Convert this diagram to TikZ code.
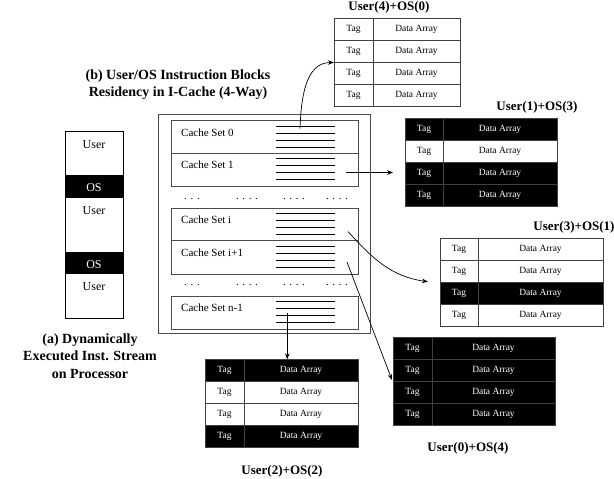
\documentclass[tikz,border=0pt]{standalone}
\usepackage{fontspec}
\setmainfont{Liberation Serif}
\usetikzlibrary{arrows.meta}
\newcommand\mktab[7]{%
  \foreach \f [count=\i] in {#7} {%
    \node[cell\f, anchor=north west, minimum width={#3-#2}, minimum height={#6}] (#1-\i-t) at (#2,{#5+(\i-1)*#6}) {Tag};
    \node[cell\f, anchor=north west, minimum width={#4-#3}, minimum height={#6}] (#1-\i-d) at (#3,{#5+(\i-1)*#6}) {Data Array};
  }}
\newcommand\mkset[4]{%
  \node[setbox, anchor=north west, minimum width=187, minimum height=#3] (#1) at (171,#2) {};
  \node[settext, anchor=base west] (#1-l) at (181,{#2+15.3}) {#4};
  \foreach \k in {0,...,3} {\draw[wline] (276,{#2+5.3+7*\k}) -- (335,{#2+5.3+7*\k});}
}
\begin{document}
\begin{tikzpicture}[x=1pt,y=-1pt,
  cellw/.style={draw=black!75, line width=0.8pt, fill=white, text=black, inner sep=0pt, outer sep=0pt, font=\fontsize{9.5}{11}\selectfont},
  cellb/.style={draw=black!75, line width=0.8pt, fill=black, text=white, inner sep=0pt, outer sep=0pt, font=\fontsize{9.5}{11}\selectfont},
  setbox/.style={draw=black!70, line width=0.9pt, inner sep=0pt, outer sep=0pt},
  settext/.style={inner sep=0pt, font=\fontsize{11}{13}\selectfont},
  wline/.style={line width=0.8pt, black},
  colbox/.style={draw=black, line width=0.9pt, inner sep=0pt, outer sep=0pt},
  osbox/.style={fill=black, text=white, inner sep=0pt, outer sep=0pt, font=\fontsize{12}{14}\selectfont},
  coltext/.style={inner sep=0pt, font=\fontsize{12}{14}\selectfont},
  ttl/.style={inner sep=0pt, font=\fontsize{13}{15}\selectfont\bfseries},
  lbl/.style={inner sep=0pt, align=center, font=\fontsize{14}{17.5}\selectfont\bfseries},
  dotsty/.style={inner sep=0pt, font=\fontsize{11}{13}\selectfont},
  arr/.style={-{Stealth[length=6pt,width=4.5pt]}, line width=0.7pt}
]
\useasboundingbox (0,0) rectangle (614,479);

% left column
\node[colbox, anchor=north west, minimum width=58, minimum height=187] (col) at (65,131) {};
\node[osbox, anchor=north west, minimum width=58, minimum height=22.5] (os1) at (65,175) {};
\node[osbox, anchor=north west, minimum width=58, minimum height=22.5] (os2) at (65,251.5) {};
\node[coltext, text=white, anchor=base] (os1t) at (94,191.3) {OS};
\node[coltext, text=white, anchor=base] (os2t) at (94,268) {OS};
\node[coltext, anchor=base] (u1) at (94,148.3) {User};
\node[coltext, anchor=base] (u2) at (94,214) {User};
\node[coltext, anchor=base] (u3) at (94,290) {User};

\node[lbl] (la) at (90,356) {(a) Dynamically\\Executed Inst. Stream\\on Processor};
\node[lbl] (lb) at (178,84.5) {(b) User/OS Instruction Blocks\\Residency in I-Cache (4-Way)};

% cache
\node[setbox, anchor=north west, minimum width=212, minimum height=219] (cache) at (158,114) {};
\mkset{s0}{120.7}{32.6}{Cache Set 0}
\mkset{s1}{153.3}{32.7}{Cache Set 1}
\mkset{si}{208.3}{32.4}{Cache Set i}
\mkset{si1}{240.7}{33.3}{Cache Set i+1}
\mkset{sn}{296}{33}{Cache Set n-1}

\foreach \yy [count=\r] in {199,285} {
  \node[dotsty, anchor=base] (d\r a) at (192,\yy) {. . .};
  \node[dotsty, anchor=base] (d\r b) at (247,\yy) {. . . .};
  \node[dotsty, anchor=base] (d\r c) at (294,\yy) {. . . .};
  \node[dotsty, anchor=base] (d\r d) at (337,\yy) {. . . .};
}

% tables
\mktab{tA}{334}{373}{460}{18.3}{22.1}{w,w,w,w}
\node[ttl] (tAt) at (389,7.5) {User(4)+OS(0)};
\mktab{tB}{405}{443}{557}{118.3}{21.9}{b,w,b,b}
\node[ttl] (tBt) at (537,107.3) {User(1)+OS(3)};
\mktab{tC}{440}{478}{603}{238.3}{22.1}{w,w,b,w}
\node[ttl] (tCt) at (574,227) {User(3)+OS(1)};
\mktab{tD}{393}{432}{555}{337.3}{21.9}{b,b,b,b}
\node[ttl] (tDt) at (468,448.3) {User(0)+OS(4)};
\mktab{tE}{205}{244}{358}{359.3}{22}{b,w,w,b}
\node[ttl] (tEt) at (282,471.7) {User(2)+OS(2)};

% connectors
\coordinate (a0) at (300,128.5);
\coordinate (a1) at (346,172.5);
\coordinate (e1) at (393,172.5);
\coordinate (a2) at (348,231.5);
\coordinate (e2) at (428,281.7);
\coordinate (a3) at (347,262);
\coordinate (e3) at (392,380);
\coordinate (a4) at (287.3,313);

\draw[arr] (a0) to[out=88, in=180] (tA-3-t.north west);
\draw[arr] (a1) -- (e1);
\draw[arr] (a2) to[out=-48, in=172] (e2);
\draw[arr] (a3) -- (e3);
\draw[arr] (a4) -- (a4 |- tE-1-d.north);
\end{tikzpicture}
\end{document}
